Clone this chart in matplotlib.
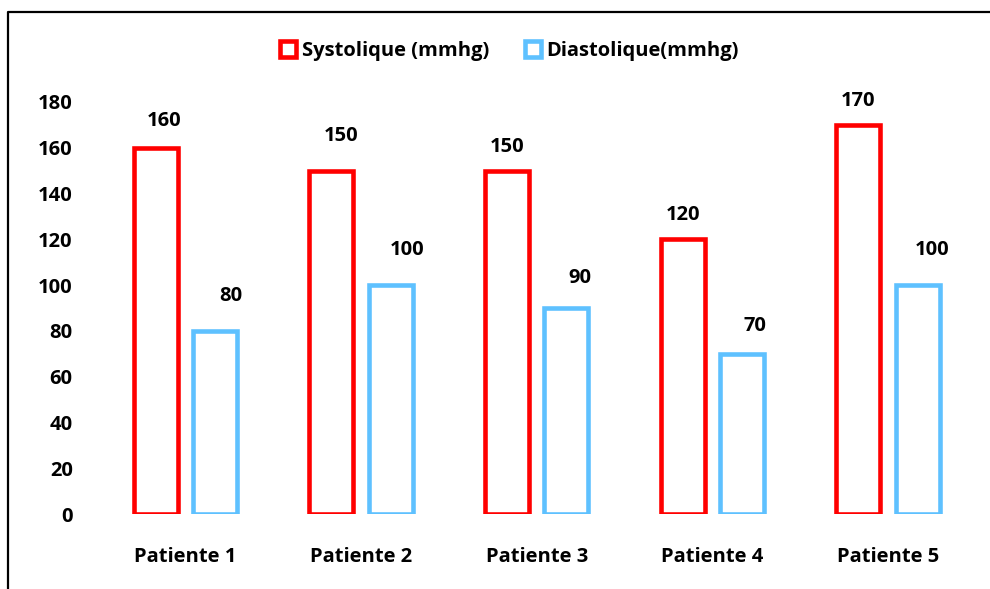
from matplotlib import pyplot as plt
from matplotlib.lines import Line2D
import numpy as np

plt.rcParams['font.family'] = ['Open Sans', 'DejaVu Sans']
plt.rcParams['font.weight'] = 'bold'

##### Données #####
patients = ['Patiente 1', 'Patiente 2', 'Patiente 3', 'Patiente 4', 'Patiente 5']
systolique = [160, 150, 150, 120, 170]
diastolique = [80, 100, 90, 70, 100]
yticks = [0, 20, 40, 60, 80, 100, 120, 140, 160, 180]

# décalage des étiquettes (pixels) : dx horizontal, dy au-dessus de la barre
dx_sys = [8, 10, 0, 0, 0]
dy_sys = [27, 35, 24, 24, 24]
dx_dia = [16, 16, 13, 13, 14]
dy_dia = [35, 35, 30, 28, 35]

rouge = '#FF0000'
bleu = '#5EC1FF'
px = 0.72  # 1 pixel en points (dpi 100)
fs = 14.5

fig = plt.figure(figsize=(9.9, 5.89), dpi=100)
ax = fig.add_axes([97.7/990, 1-514/589, 878/990, 412/589])

x = np.arange(len(patients))
off = 0.1694
w = 0.25
ax.bar(x-off, systolique, w, facecolor='white', edgecolor=rouge, linewidth=3.3)
ax.bar(x+off, diastolique, w, facecolor='white', edgecolor=bleu, linewidth=3.3)

for i in range(len(patients)):
    ax.annotate(str(systolique[i]), (x[i]-off, systolique[i]),
                xytext=(dx_sys[i]*px, dy_sys[i]*px), textcoords='offset points',
                ha='center', va='center', fontsize=fs, fontweight='bold')
    ax.annotate(str(diastolique[i]), (x[i]+off, diastolique[i]),
                xytext=(dx_dia[i]*px, dy_dia[i]*px), textcoords='offset points',
                ha='center', va='center', fontsize=fs, fontweight='bold')

ax.set_xlim(-0.5, 4.5)
ax.set_ylim(0, 180)
ax.set_yticks(yticks)
ax.set_xticks(x)
ax.set_xticklabels(patients)
ax.tick_params(axis='y', length=0, pad=18, labelsize=fs)
ax.tick_params(axis='x', length=0, pad=24, labelsize=fs)
for s in ax.spines.values():
    s.set_visible(False)

##### Légende #####
h1 = Line2D([], [], linestyle='none', marker='s', markersize=11.5,
            markerfacecolor='white', markeredgecolor=rouge, markeredgewidth=3.3)
h2 = Line2D([], [], linestyle='none', marker='s', markersize=11.5,
            markerfacecolor='white', markeredgecolor=bleu, markeredgewidth=3.3)
fig.legend([h1, h2], ['Systolique (mmhg)', 'Diastolique(mmhg)'], ncol=2,
           loc='center', bbox_to_anchor=(510/990, 1-51/589), frameon=False,
           fontsize=fs, handlelength=0.7, handletextpad=0.35, columnspacing=1.8)

##### Cadre #####
fig.add_artist(Line2D([8/990, 8/990, 1.01], [-0.01, 1-12/589, 1-12/589],
                      transform=fig.transFigure, color='black', linewidth=1.6))

fig.savefig('out.png', dpi=100)
